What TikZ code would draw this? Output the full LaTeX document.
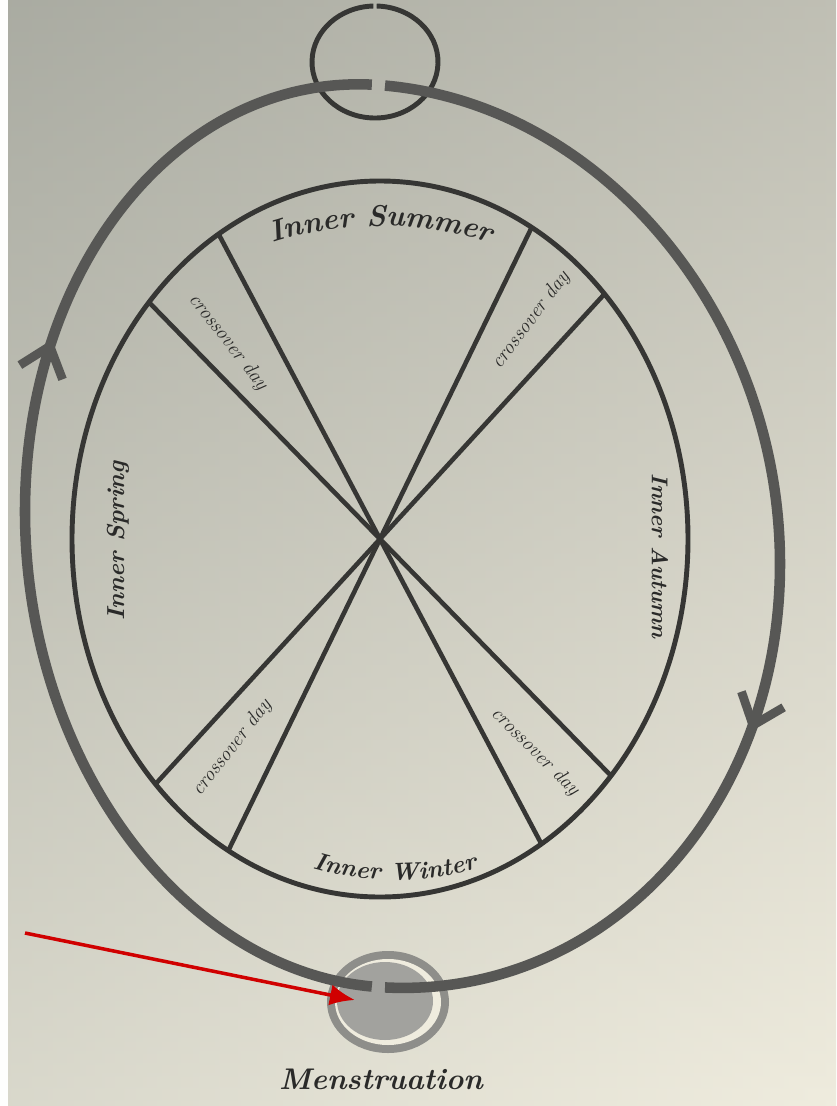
\documentclass[tikz,border=0pt]{standalone}
\usepackage{tikz}
\usetikzlibrary{arrows.meta,calc,decorations.markings,decorations.text}
\definecolor{PagePale}{HTML}{EFECDE}
\definecolor{PageShade}{HTML}{C3C4B9}
\definecolor{PageDusk}{HTML}{91938B}
\definecolor{OrbitGray}{HTML}{575755}
\definecolor{SpokeInk}{HTML}{363634}
\definecolor{LabelInk}{HTML}{2A2A29}
\definecolor{DiscGray}{HTML}{A2A29E}
\definecolor{RingGray}{HTML}{8E8E8A}
\definecolor{PointerRed}{HTML}{D00000}

\begin{document}
\begin{tikzpicture}[
    x=0.02cm,y=-0.02cm,
    orbit/.style={draw=OrbitGray,line width=6pt},
    flowtip/.style={postaction={decorate},decoration={markings,
      mark=at position #1 with {\arrow{Straight Barb[length=5.5mm,width=9mm,line width=5pt,color=OrbitGray]}}}},
    wheel/.style={draw=SpokeInk,line width=2.8pt},
    spoke/.style={draw=SpokeInk,line width=2.6pt},
    season/.style={text=LabelInk,font=\bfseries\itshape\fontsize{#1}{#1}\selectfont},
    crossover/.style={text=LabelInk,font=\itshape\fontsize{11.5}{13}\selectfont},
    redarrow/.style={-{Latex[length=5mm,width=4.2mm]},draw=PointerRed,line width=2pt}
  ]
  \shade[left color=PageShade,right color=PagePale] (0,0) rectangle (836,1106);
  \shade[top color=PageDusk,bottom color=PagePale,opacity=0.5] (0,0) rectangle (836,1106);
  \fill[white!95!PagePale] (0,0) rectangle (8,1106);
  \useasboundingbox (0,0) rectangle (836,1106);

  \coordinate (ovum) at (375,62);
  \draw[wheel] ($(ovum)+(-88.5:63 and 56)$) arc[start angle=-88.5,end angle=268.5,x radius=63,y radius=56];

  \coordinate (menses) at (388,1002);
  \fill[RingGray] (menses) ellipse[x radius=61,y radius=51];
  \fill[PagePale] (menses) ellipse[x radius=53,y radius=43];
  \fill[DiscGray] ($(menses)+(-3,-1)$) ellipse[x radius=48,y radius=39];

  \begin{scope}[shift={(378,536)},cm={1,-0.07,0,1,(0,0)}]
    \draw[orbit,flowtip=0.64] (-89:402 and 451) arc[start angle=-89,end angle=89,x radius=402,y radius=451];
    \draw[orbit,flowtip=0.65] (91:353 and 451) arc[start angle=91,end angle=269,x radius=353,y radius=451];
  \end{scope}

  \coordinate (hub) at (380,539);
  \draw[wheel] (hub) ellipse[x radius=308,y radius=358];
  \foreach \ang in {-121.6,-138.6,-60.5,-43.2}
    \draw[spoke] ($(hub)+(\ang:308 and 358)$) -- ($(hub)+(\ang+180:308 and 358)$);

  \path[decorate,decoration={text along path,text align=center,
      text={|\color{LabelInk}\bfseries\itshape\fontsize{17}{20}\selectfont|Inner Summer}}]
    (381,583) ++(-115:357) arc[start angle=-115,end angle=-65,radius=357];
  \path[decorate,decoration={text along path,text align=center,
      text={|\color{LabelInk}\bfseries\itshape\fontsize{14}{16}\selectfont|Inner Winter}}]
    (395,580) ++(115:300) arc[start angle=115,end angle=65,radius=300];
  \node[season=14,rotate=90] (spring) at (118,541) {Inner Spring};
  \node[season=13,rotate=-90] (autumn) at (660,556) {Inner Autumn};

  \node[crossover,rotate=-52] (cross-nw) at (228,342) {crossover day};
  \node[crossover,rotate=53] (cross-ne) at (531,320) {crossover day};
  \node[crossover,rotate=52] (cross-sw) at (232,748) {crossover day};
  \node[crossover,rotate=-45] (cross-se) at (535,752) {crossover day};

  \node[season=17] (bleed) at (381,1079) {Menstruation};
  \coordinate (pointer) at (25,933);
  \coordinate (flow) at (355,1000);
  \draw[redarrow] (pointer) -- (flow);
\end{tikzpicture}
\end{document}
